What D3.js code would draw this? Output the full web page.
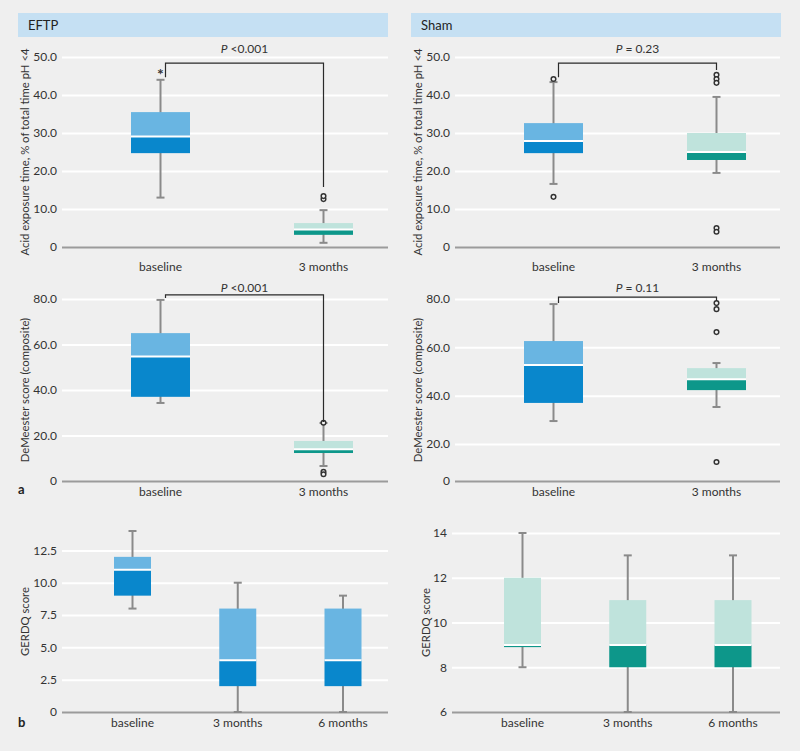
<!DOCTYPE html>
<html>
<head>
<meta charset="utf-8">
<script src="https://cdn.jsdelivr.net/npm/d3@7.9.0/dist/d3.min.js"></script>
<style>
  body { margin: 0; background: #efefef; }
  svg { display: block; font-family: Lato, 'Open Sans', sans-serif; }
</style>
</head>
<body>
<svg id="chart" width="800" height="751"></svg>
<script>
// box stats are [min, q1, median, q3, max]
const twoCats = ['baseline', '3 months'];
const threeCats = ['baseline', '3 months', '6 months'];

const eftpAcid = [[13, 24.7, 29.1, 35.5, 44], [1.1, 3.2, 4.6, 6.3, 9.7]];
const eftpAcidOut = [[], [12.6, 13.4]];
const shamAcid = [[16.6, 24.7, 27.9, 32.6, 43.4], [19.5, 22.9, 25, 30, 39.5]];
const shamAcidOut = [[44.2, 13.2], [45.3, 44.2, 43.2, 5, 4]];

const eftpDem = [[34.3, 37, 54.7, 65, 79.6], [6.6, 12.3, 14, 17.6, 25.5]];
const eftpDemOut = [[], [25.6, 4, 3]];
const shamDem = [[29.5, 37, 52.7, 62.6, 77.9], [35.3, 42.3, 46.8, 51.4, 53.5]];
const shamDemOut = [[], [78.3, 75.8, 66.3, 10.3]];

const eftpGerdq = [[8, 9, 11, 12, 14], [0, 2, 4, 8, 10], [0, 2, 4, 8, 9]];
const shamGerdq = [[8, 8.9, 9, 12, 14], [6, 8, 9, 11, 13], [6, 8, 9, 11, 13]];

const acidTicks = [0, 10, 20, 30, 40, 50];
const demTicks = [0, 20, 40, 60, 80];
const eftpGerdqTicks = [0, 2.5, 5, 7.5, 10, 12.5];
const shamGerdqTicks = [6, 8, 10, 12, 14];

// significance brackets: [left end value, top value, right end value, label value]
const eftpAcidSig = [44.7, 48.4, 15.8, 51];
const shamAcidSig = [44.7, 48.4, 46.6, 51];
const eftpDemSig = [80.4, 81.8, 25.9, 83.1];
const shamDemSig = [78.3, 80.8, 79.2, 82.9];

const blue = { light: '#69b5e2', dark: '#0987cc' };
const teal = { light: '#bfe3dc', dark: '#0d978a' };

const svg = d3.select('#chart');

// panel headers
[['EFTP', 18], ['Sham', 411]].forEach(([name, x]) => {
  svg.append('rect')
    .attr('x', x).attr('y', 13).attr('width', 370).attr('height', 24)
    .attr('fill', '#c5e0f3');
  svg.append('text')
    .attr('x', x + 10).attr('y', 30)
    .attr('font-size', 13).attr('fill', '#222')
    .text(name);
});

function fmt1(d) {
  return d === 0 ? '0' : d3.format('.1f')(d);
}

function drawPanel(o) {
  const g = svg.append('g');
  const left = o.left;
  const plotW = (o.left < 400 ? 388 : 780) - left;

  const y = d3.scaleLinear().domain(o.domain).range(o.range);
  const x = d3.scalePoint().domain(o.cats)
    .range(o.cats.length === 2 ? [left + 98.5, left + 261.5] : [left + 70.5, left + 281]);

  // axis with gridlines
  const yAxis = d3.axisLeft(y)
    .tickValues(o.ticks)
    .tickSize(-plotW)
    .tickPadding(5)
    .tickFormat(o.format);

  const ax = g.append('g')
    .attr('transform', `translate(${left},0)`)
    .call(yAxis);
  ax.select('.domain').remove();
  ax.selectAll('.tick line')
    .attr('stroke', (d, i) => (i === 0 ? '#9b9b9b' : '#fff'))
    .attr('stroke-width', 2);
  ax.selectAll('.tick text')
    .attr('fill', '#333')
    .attr('font-size', 12)
    .attr('font-family', 'Lato, sans-serif');

  // y title
  const yMid = (y.range()[0] + y.range()[y.range().length - 1]) / 2;
  g.append('text')
    .attr('transform', `translate(${left - o.titleGap},${yMid}) rotate(-90)`)
    .attr('text-anchor', 'middle')
    .attr('dominant-baseline', 'central')
    .attr('font-size', 11.3)
    .attr('fill', '#333')
    .text(o.title);

  // category labels
  g.selectAll('.cat')
    .data(o.cats)
    .join('text')
    .attr('x', (d) => x(d))
    .attr('y', y.range()[0] + o.catGap)
    .attr('text-anchor', 'middle')
    .attr('font-size', 12)
    .attr('fill', '#333')
    .text((d) => d);

  const bw = o.cats.length === 2 ? 59 : 37;

  o.stats.forEach((s, i) => {
    const cx = x(o.cats[i]);
    const col = o.colors[i];
    const [mn, q1, md, q3, mx] = s;

    // whisker
    g.append('line')
      .attr('x1', cx).attr('x2', cx)
      .attr('y1', y(mn)).attr('y2', y(mx))
      .attr('stroke', '#8a8a8a').attr('stroke-width', 2);
    [mn, mx].forEach((v) => {
      g.append('line')
        .attr('x1', cx - 4).attr('x2', cx + 4)
        .attr('y1', y(v)).attr('y2', y(v))
        .attr('stroke', '#8a8a8a').attr('stroke-width', 2);
    });

    // box halves
    g.append('rect')
      .attr('x', cx - bw / 2).attr('width', bw)
      .attr('y', y(q3)).attr('height', y(md) - y(q3))
      .attr('fill', col.light);
    g.append('rect')
      .attr('x', cx - bw / 2).attr('width', bw)
      .attr('y', y(md)).attr('height', y(q1) - y(md))
      .attr('fill', col.dark);
    g.append('line')
      .attr('x1', cx - bw / 2).attr('x2', cx + bw / 2)
      .attr('y1', y(md)).attr('y2', y(md))
      .attr('stroke', '#fff').attr('stroke-width', 2);

    // outliers
    if (o.outliers) {
      g.selectAll(null)
        .data(o.outliers[i])
        .join('circle')
        .attr('cx', cx)
        .attr('cy', (d) => y(d))
        .attr('r', 2.3)
        .attr('fill', '#f4f4f4')
        .attr('stroke', '#333')
        .attr('stroke-width', 1.5);
    }
  });

  // significance bracket
  if (o.sig) {
    const [l, t, r, lab] = o.sig;
    const x1 = x(o.cats[0]) + 5, x2 = x(o.cats[1]);
    g.append('path')
      .attr('d', d3.line()([[x1, y(l)], [x1, y(t)], [x2, y(t)], [x2, y(r)]]))
      .attr('fill', 'none')
      .attr('stroke', '#2a2a2a')
      .attr('stroke-width', 1.2);
    const txt = g.append('text')
      .attr('x', (x1 + x2) / 2)
      .attr('y', y(lab))
      .attr('text-anchor', 'middle')
      .attr('font-size', 12)
      .attr('fill', '#333');
    txt.append('tspan').attr('font-style', 'italic').text('P');
    txt.append('tspan').text(o.sigText);
  }

  if (o.star) {
    g.append('text')
      .attr('x', x(o.cats[0]))
      .attr('y', y(o.star) + 10)
      .attr('text-anchor', 'middle')
      .attr('font-size', 16)
      .attr('font-weight', 'bold')
      .attr('fill', '#333')
      .text('*');
  }
  return g;
}

const acidTitle = 'Acid exposure time, % of total time pH <4';
const demTitle = 'DeMeester score (composite)';

drawPanel({
  left: 62, cats: twoCats, domain: [0, 50], range: [247, 57], ticks: acidTicks,
  format: fmt1, title: acidTitle, titleGap: 38, catGap: 24,
  stats: eftpAcid, outliers: eftpAcidOut, colors: [blue, teal],
  sig: eftpAcidSig, sigText: ' <0.001', star: 46.5,
});
drawPanel({
  left: 455, cats: twoCats, domain: [0, 50], range: [247, 57], ticks: acidTicks,
  format: fmt1, title: acidTitle, titleGap: 38, catGap: 24,
  stats: shamAcid, outliers: shamAcidOut, colors: [blue, teal],
  sig: shamAcidSig, sigText: ' = 0.23',
});
drawPanel({
  left: 62, cats: twoCats, domain: [0, 80], range: [481, 299], ticks: demTicks,
  format: fmt1, title: demTitle, titleGap: 38, catGap: 15,
  stats: eftpDem, outliers: eftpDemOut, colors: [blue, teal],
  sig: eftpDemSig, sigText: ' <0.001',
});
drawPanel({
  left: 455, cats: twoCats, domain: [0, 20, 80], range: [481, 444, 299], ticks: demTicks,
  format: fmt1, title: demTitle, titleGap: 38, catGap: 15,
  stats: shamDem, outliers: shamDemOut, colors: [blue, teal],
  sig: shamDemSig, sigText: ' = 0.11',
});
drawPanel({
  left: 62, cats: threeCats, domain: [0, 14], range: [712, 531], ticks: eftpGerdqTicks,
  format: fmt1, title: 'GERDQ score', titleGap: 38, catGap: 15,
  stats: eftpGerdq, colors: [blue, blue, blue],
});
drawPanel({
  left: 452, cats: threeCats, domain: [6, 14], range: [712, 533], ticks: shamGerdqTicks,
  format: d3.format('d'), title: 'GERDQ score', titleGap: 27, catGap: 15,
  stats: shamGerdq, colors: [teal, teal, teal],
});

// sub-figure letters
[['a', 494], ['b', 727]].forEach(([t, yy]) => {
  svg.append('text')
    .attr('x', 18).attr('y', yy)
    .attr('font-size', 13).attr('font-weight', 'bold')
    .attr('fill', '#222')
    .text(t);
});
</script>
</body>
</html>
